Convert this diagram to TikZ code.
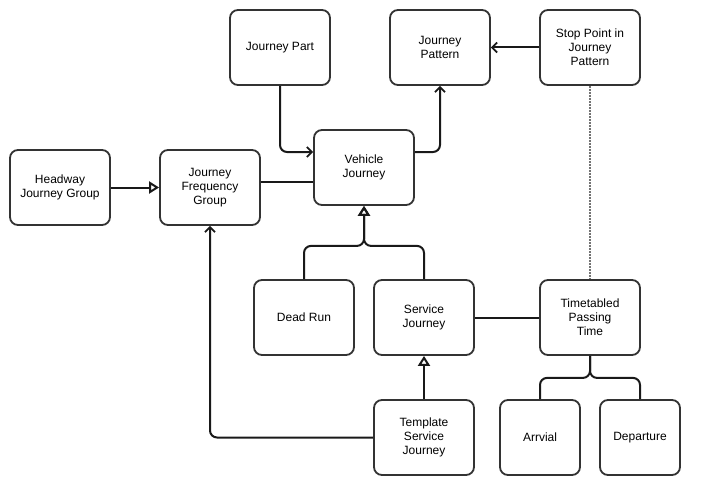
\documentclass[tikz,border=0pt]{standalone}
\usepackage{fontspec}
\setmainfont{Liberation Sans}
\usetikzlibrary{arrows.meta}
\begin{document}
\begin{tikzpicture}[x=1pt,y=-1pt,
  box/.style={draw=black!80, line width=1.8pt, rounded corners=8pt, fill=white,
    minimum width=100pt, minimum height=75pt, align=center, inner sep=2pt,
    font=\fontsize{12}{14}\selectfont},
  smallbox/.style={box, minimum width=80pt},
  conn/.style={line width=2pt, draw=black!90, rounded corners=7pt},
  nav/.style={conn, -{Straight Barb[length=5pt,width=10pt,line width=1.8pt]}},
  gen/.style={conn, -{Triangle[open,length=10pt,width=12pt,line width=2pt]}},
  dep/.style={line width=2.2pt, draw=black!55, dash pattern=on 1.8pt off 1.2pt}
]
\useasboundingbox (0,0) rectangle (706,495);

% classes
\node[box] (jpart) at (280,47.5) {Journey Part};
\node[box] (jpat)  at (440,47.5) {Journey\\Pattern};
\node[box] (spjp)  at (590,47.5) {Stop Point in\\Journey\\Pattern};
\node[box] (hjg)   at (60,187.5) {Headway\\Journey Group};
\node[box] (jfg)   at (210,187.5) {Journey\\Frequency\\Group};
\node[box] (vj)    at (364,167.5) {Vehicle\\Journey};
\node[box] (dr)    at (304,317.5) {Dead Run};
\node[box] (sj)    at (424,317.5) {Service\\Journey};
\node[box] (tpt)   at (590,317.5) {Timetabled\\Passing\\Time};
\node[box] (tsj)   at (424,437.5) {Template\\Service\\Journey};
\node[smallbox] (arr) at (540,437.5) {Arrvial};
\node[smallbox] (dpt) at (640,437.5) {Departure};

% junction points
\coordinate (vjm) at ([yshift=-40pt]vj.south);
\coordinate (tptm) at ([yshift=-22pt]tpt.south);

% associations
\draw[nav] (jpart.south) |- ([yshift=15.5pt]vj.west);
\draw[nav] ([yshift=15.5pt]vj.east) -| (jpat.south);
\draw[nav] (spjp.west) -- (jpat.east);
\draw[conn] (jfg.east |- 0,182) -- (vj.west |- 0,182);
\draw[conn] (sj.east) -- (tpt.west);
\draw[nav] (tsj.west) -| (jfg.south);
\draw[dep] (spjp.south) -- (tpt.north);

% generalisations
\draw[gen] (hjg.east) -- (jfg.west);
\draw[gen] (dr.north) |- (vjm) -- (vj.south);
\draw[gen] (sj.north) |- (vjm) -- (vj.south);
\draw[gen] (tsj.north) -- (sj.south);

% composition of passing time
\draw[conn] (tpt.south) -- (tptm) -| (arr.north);
\draw[conn] (tpt.south) -- (tptm) -| (dpt.north);
\end{tikzpicture}
\end{document}
